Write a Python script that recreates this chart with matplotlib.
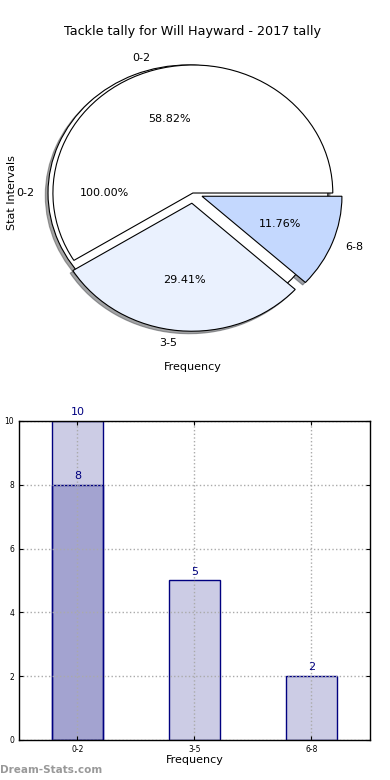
import numpy as np
import matplotlib
matplotlib.use("Agg")
import matplotlib.pyplot as plt

# Tally data
categories = ["0-2", "3-5", "6-8"]
counts = [10, 5, 2]
sub_labels = ["0-2"]
sub_counts = [8]

pie_colors = ["#ffffff", "#eaf1fe", "#c4d8fe"]
bar_face = (0, 0, 0.5, 0.2)

fig = plt.figure(figsize=(3.9, 7.8), dpi=100)

# Pie chart (top)
ax1 = fig.add_axes([0.046, 0.5474, 0.897, 0.4103])
wedge_kw = dict(edgecolor="black", linewidth=0.8)
shadow_kw = {"ox": -0.014, "oy": -0.014}
ax1.pie(sub_counts, labels=sub_labels, autopct="%.2f%%", explode=[0.035],
        shadow=shadow_kw, colors=["#ffffff"], wedgeprops=wedge_kw,
        textprops=dict(fontsize=8))
ax1.pie(counts, labels=categories, autopct="%.2f%%", explode=[0, 0.08, 0.07],
        shadow=shadow_kw, colors=pie_colors, wedgeprops=wedge_kw,
        textprops=dict(fontsize=8))
ax1.set_aspect("auto")
ax1.set_xlim(-1.25, 1.25)
ax1.set_ylim(-1.25, 1.25)
ax1.set_title("Tackle tally for Will Hayward - 2017 tally", fontsize=9.2,
              y=0.995, pad=0)
ax1.set_xlabel("Frequency", fontsize=8)
ax1.set_ylabel("Stat Intervals", fontsize=8)
ax1.yaxis.set_label_coords(-0.004, 0.5)
ax1.xaxis.set_label_coords(0.5, -0.027)

# Bar chart (bottom)
ax2 = fig.add_axes([0.0487, 0.0513, 0.9, 0.409])
x = np.arange(len(categories))
ax2.bar(x, counts, width=0.44, color=bar_face, edgecolor="navy", linewidth=1)
ax2.bar(x[:len(sub_counts)], sub_counts, width=0.44, color=bar_face,
        edgecolor="navy", linewidth=1)
for xi, v in zip(x, counts):
    ax2.text(xi, v + 0.12, str(v), ha="center", va="bottom", color="navy", fontsize=8)
for xi, v in zip(x[:len(sub_counts)], sub_counts):
    ax2.text(xi, v + 0.12, str(v), ha="center", va="bottom", color="navy", fontsize=8)

ax2.set_xlim(-0.5, 2.5)
ax2.set_ylim(0, 10)
ax2.set_xticks(x)
ax2.set_xticklabels(categories)
ax2.set_yticks(np.arange(0, 11, 2))
ax2.tick_params(labelsize=5.5, direction="in", top=True, right=True, length=3)
ax2.grid(True, linestyle=":", color="#aaaaaa", linewidth=1)
ax2.set_xlabel("Frequency", fontsize=8, labelpad=1)
ax2.set_ylabel("Stat Intervals", fontsize=8)
ax2.yaxis.set_label_coords(-0.045, 0.5)
for s in ax2.spines.values():
    s.set_linewidth(1)

fig.text(0.0, 0.013, "Dream-Stats.com", fontsize=7.5, fontweight="bold",
         color="#999999", ha="left", va="center")

fig.savefig("out.png", dpi=100)
